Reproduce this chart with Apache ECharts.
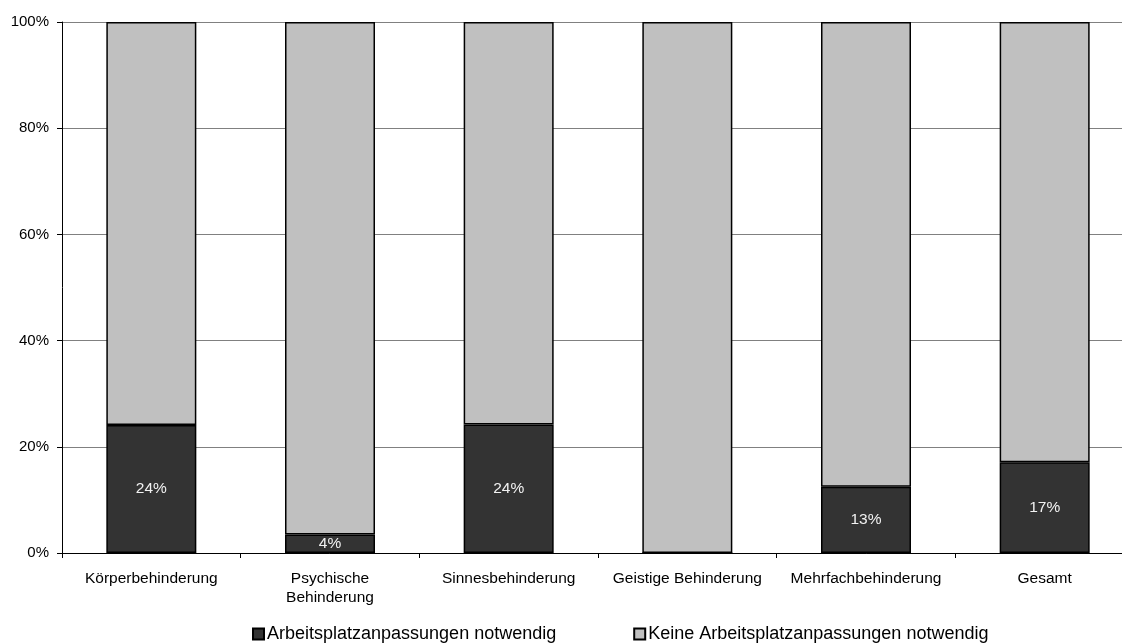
<!DOCTYPE html>
<html>
<head>
<meta charset="utf-8">
<script src="https://cdn.jsdelivr.net/npm/echarts@6/dist/echarts.min.js"></script>
<style>
  html, body { margin: 0; padding: 0; background: #fff; overflow: hidden; }
  /* the plot runs past the right edge of the window, so the canvas is a bit wider */
  #chart { width: 1134px; height: 643px; }
</style>
</head>
<body>
<div id="chart"></div>
<script>
// Kategorien (Art der Behinderung)
const categories = [
  'Körperbehinderung',
  'Psychische\nBehinderung',
  'Sinnesbehinderung',
  'Geistige Behinderung',
  'Mehrfachbehinderung',
  'Gesamt'
];

// Anteil mit notwendigen Arbeitsplatzanpassungen (%)
const anpassungNotwendig = [24.1, 3.5, 24.2, 0, 12.5, 17.1];

// Anteil ohne notwendige Anpassungen (Rest bis 100 %)
const keineAnpassung = anpassungNotwendig.map(v => +(100 - v).toFixed(1));

// Beschriftung der y-Achse
const yTicks = [0, 20, 40, 60, 80, 100];

const seriesNames = [
  'Arbeitsplatzanpassungen notwendig',
  'Keine Arbeitsplatzanpassungen notwendig'
];

const FONT = '"Liberation Sans", Arial, sans-serif';

const chart = echarts.init(document.getElementById('chart'), null, { renderer: 'canvas' });

chart.setOption({
  animation: false,
  backgroundColor: '#ffffff',
  grid: { left: 62, top: 22, width: 1072, height: 531, containLabel: false },
  legend: {
    left: 252,
    top: 625,
    padding: 0,
    itemWidth: 11,
    itemHeight: 11,
    itemGap: 77,
    icon: 'rect',
    textStyle: { fontFamily: FONT, fontSize: 18, color: '#000', padding: [0, 0, 0, -2] },
    data: seriesNames
  },
  xAxis: {
    type: 'category',
    data: categories,
    axisLine: { show: true, lineStyle: { color: '#000', width: 1 } },
    axisTick: { show: true, length: 5, alignWithLabel: false, lineStyle: { color: '#000' } },
    axisLabel: {
      margin: 16,
      interval: 0,
      fontFamily: FONT,
      fontSize: 15.5,
      color: '#000',
      lineHeight: 19
    }
  },
  yAxis: {
    type: 'value',
    min: yTicks[0],
    max: yTicks[yTicks.length - 1],
    interval: 20,
    axisLine: { show: true, lineStyle: { color: '#000', width: 1 } },
    axisTick: { show: true, length: 5, lineStyle: { color: '#000' } },
    axisLabel: {
      margin: 13,
      fontFamily: FONT,
      fontSize: 15,
      color: '#000',
      formatter: v => v + '%'
    },
    splitLine: { show: true, lineStyle: { color: '#808080', width: 1 } }
  },
  series: [
    {
      name: seriesNames[0],
      type: 'bar',
      stack: 'gesamt',
      barWidth: 90,
      data: anpassungNotwendig,
      itemStyle: { color: '#333333', borderColor: '#000', borderWidth: 1.5 },
      label: {
        show: true,
        position: 'inside',
        fontFamily: FONT,
        fontSize: 15.5,
        color: '#f2f2f2',
        formatter: p => p.value > 0 ? Math.round(p.value) + '%' : ''
      }
    },
    {
      name: seriesNames[1],
      type: 'bar',
      stack: 'gesamt',
      barWidth: 90,
      data: keineAnpassung,
      itemStyle: { color: '#c0c0c0', borderColor: '#000', borderWidth: 1.5 },
      label: { show: false }
    }
  ]
});
</script>
</body>
</html>
